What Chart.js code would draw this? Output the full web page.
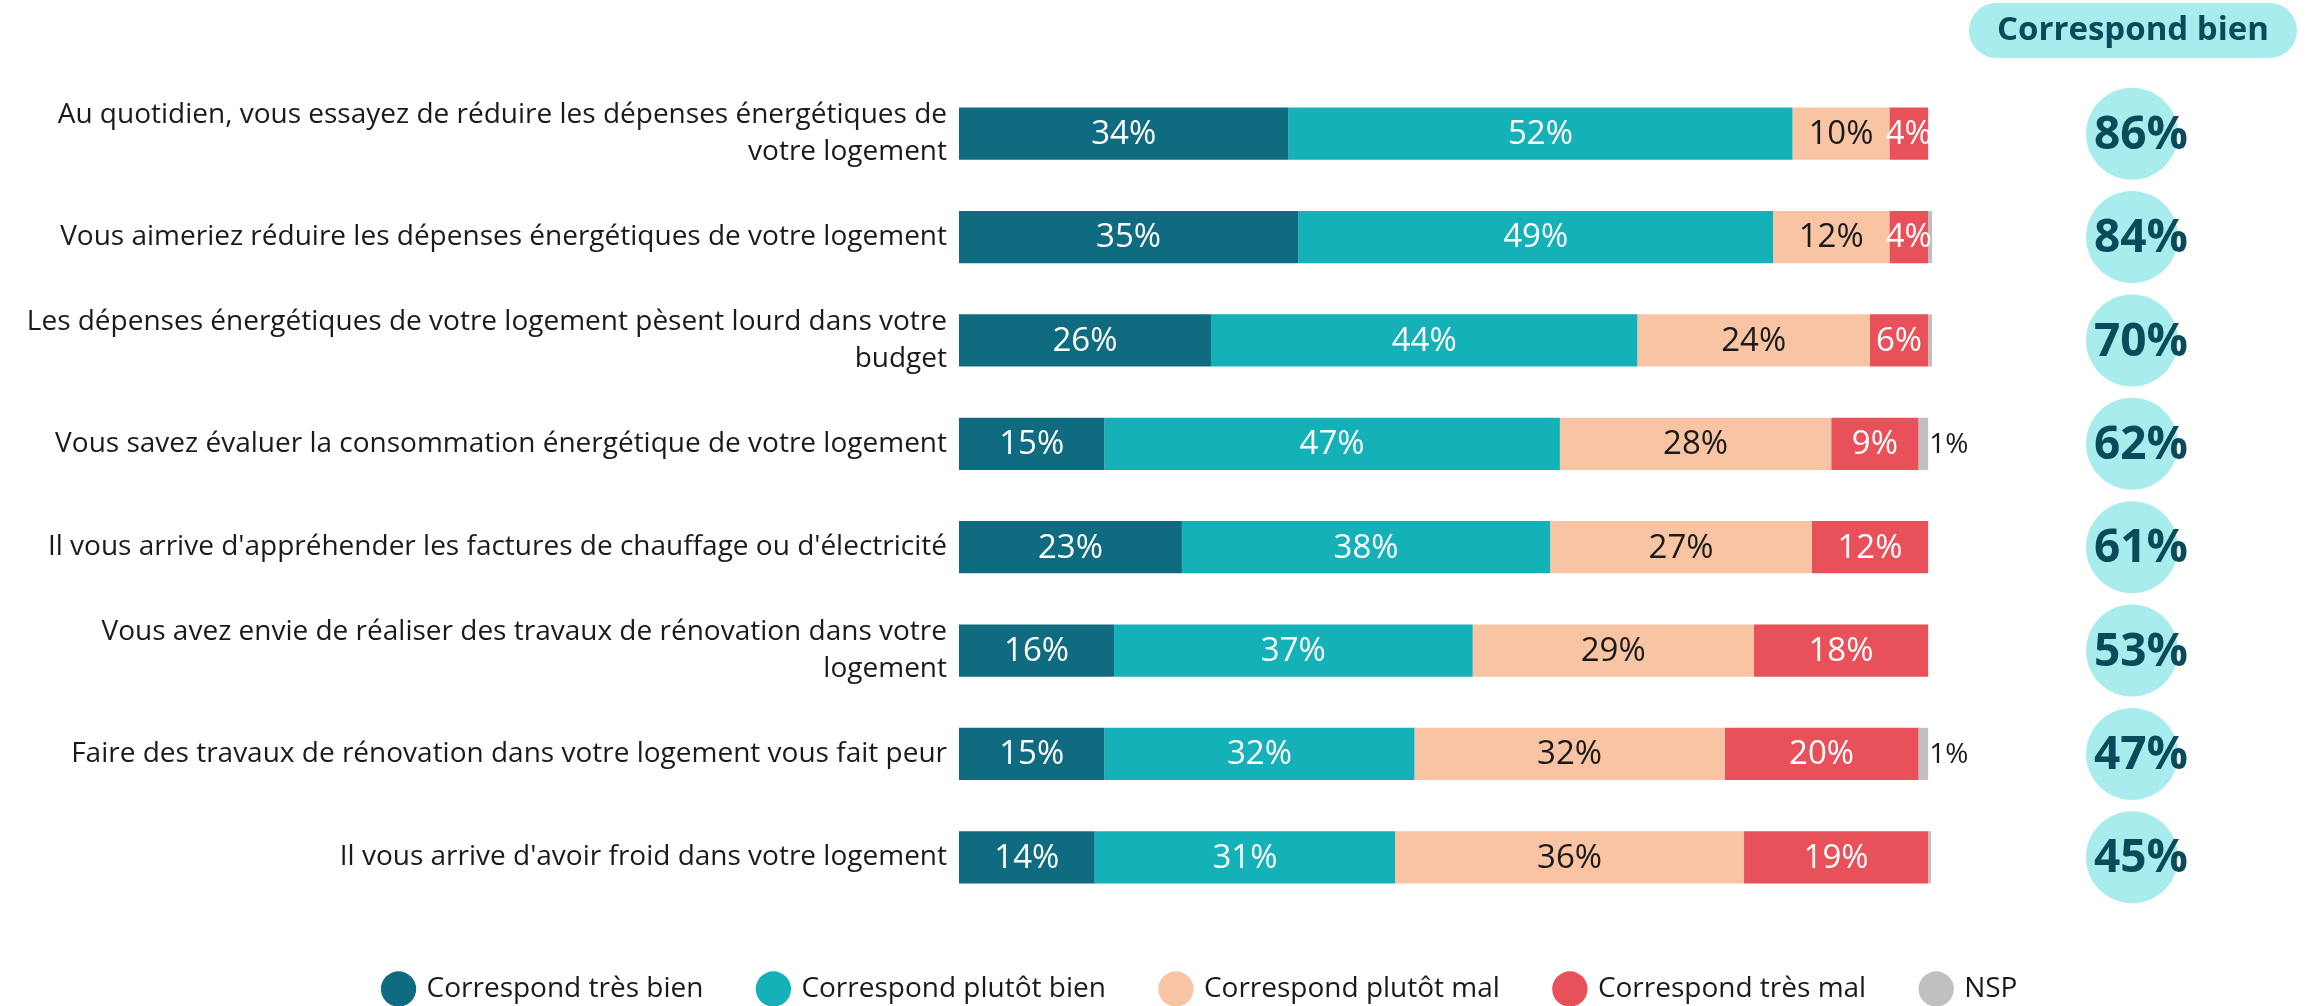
<!DOCTYPE html>
<html>
<head>
<meta charset="utf-8">
<script src="https://cdn.jsdelivr.net/npm/chart.js@4.4.1/dist/chart.umd.min.js"></script>
<style>
html,body{margin:0;padding:0;background:#ffffff;}
canvas{display:block;}
</style>
</head>
<body>
<canvas id="c" width="2310" height="1006"></canvas>
<script>
// ---- Data ----
const categories = [
  ["Au quotidien, vous essayez de réduire les dépenses énergétiques de", "votre logement"],
  "Vous aimeriez réduire les dépenses énergétiques de votre logement",
  ["Les dépenses énergétiques de votre logement pèsent lourd dans votre", "budget"],
  "Vous savez évaluer la consommation énergétique de votre logement",
  "Il vous arrive d'appréhender les factures de chauffage ou d'électricité",
  ["Vous avez envie de réaliser des travaux de rénovation dans votre", "logement"],
  "Faire des travaux de rénovation dans votre logement vous fait peur",
  "Il vous arrive d'avoir froid dans votre logement"
];
const seriesNames = ["Correspond très bien", "Correspond plutôt bien", "Correspond plutôt mal", "Correspond très mal", "NSP"];
const tresBien   = [34, 35, 26, 15, 23, 16, 15, 14];
const plutotBien = [52, 49, 44, 47, 38, 37, 32, 31];
const plutotMal  = [10, 12, 24, 28, 27, 29, 32, 36];
const tresMal    = [4, 4, 6, 9, 12, 18, 20, 19];
const nsp        = [0, 0.4, 0.4, 1, 0, 0, 1, 0.3];
const correspondBien = [86, 84, 70, 62, 61, 53, 47, 45];
const headerText = "Correspond bien";

// ---- Styles ----
const colors = ["#0f6b80", "#14b1b8", "#f8c4a4", "#e8515a", "#c0c0c0"];
const labelColors = ["#ffffff", "#ffffff", "#1a1a1a", "#ffffff"];
const FONT = "'Open Sans', 'Noto Sans', sans-serif";

const seriesValues = [tresBien, plutotBien, plutotMal, tresMal, nsp];

const segLabels = {
  id: 'segLabels',
  afterDatasetsDraw(chart) {
    const ctx = chart.ctx;
    ctx.save();
    ctx.textBaseline = 'middle';
    chart.data.datasets.forEach((ds, di) => {
      const meta = chart.getDatasetMeta(di);
      meta.data.forEach((bar, i) => {
        const v = ds.data[i];
        if (di < 4) {
          if (!v) return;
          ctx.font = "33px " + FONT;
          ctx.fillStyle = labelColors[di];
          ctx.textAlign = 'center';
          ctx.fillText(v + '%', (bar.x + bar.base) / 2, bar.y + 1);
        } else if (v >= 1) {
          ctx.font = "28px " + FONT;
          ctx.fillStyle = '#1a1a1a';
          ctx.textAlign = 'left';
          ctx.fillText(v + '%', bar.x + 1, bar.y + 1);
        }
      });
    });
    ctx.restore();
  }
};

const badges = {
  id: 'badges',
  afterDraw(chart) {
    const ctx = chart.ctx;
    const y = chart.scales.y;
    ctx.save();
    ctx.fillStyle = '#a8eced';
    ctx.beginPath();
    ctx.roundRect(1969, 3, 328, 55, 27.5);
    ctx.fill();
    ctx.fillStyle = '#0c4a5a';
    ctx.textAlign = 'center';
    ctx.textBaseline = 'middle';
    ctx.font = "bold 33px " + FONT;
    ctx.fillText(headerText, 2133, 31);
    correspondBien.forEach((v, i) => {
      const cy = y.getPixelForValue(i);
      ctx.fillStyle = '#a8eced';
      ctx.beginPath();
      ctx.arc(2132, cy, 46, 0, Math.PI * 2);
      ctx.fill();
      ctx.fillStyle = '#0c4a5a';
      ctx.font = "bold 46px " + FONT;
      ctx.fillText(v + '%', 2141, cy + 2);
    });
    ctx.restore();
  }
};

new Chart(document.getElementById('c'), {
  type: 'bar',
  data: {
    labels: categories,
    datasets: seriesNames.map((name, k) => ({
      label: name,
      data: seriesValues[k],
      backgroundColor: colors[k],
      borderWidth: 0,
      barPercentage: 0.505,
      categoryPercentage: 1.0
    }))
  },
  options: {
    responsive: false,
    animation: false,
    indexAxis: 'y',
    layout: { padding: { left: 0, right: -92, top: 82, bottom: -7 } },
    scales: {
      x: {
        stacked: true, min: 0, max: 139.4,
        grid: { display: false, drawTicks: false },
        border: { display: false },
        ticks: { display: false },
        afterFit(s) { s.height = 10; }
      },
      y: {
        stacked: true,
        grid: { display: false, drawTicks: false },
        border: { display: false },
        ticks: {
          autoSkip: false,
          color: '#1a1a1a',
          padding: 12,
          font: { family: FONT, size: 28, lineHeight: 1.32 }
        },
        afterFit(s) { s.width = 959; }
      }
    },
    plugins: {
      legend: {
        position: 'bottom',
        labels: {
          usePointStyle: true,
          pointStyle: 'circle',
          boxHeight: 25,
          padding: 56,
          color: '#1a1a1a',
          font: { family: FONT, size: 28 }
        }
      },
      tooltip: { enabled: false }
    }
  },
  plugins: [segLabels, badges]
});
</script>
</body>
</html>
